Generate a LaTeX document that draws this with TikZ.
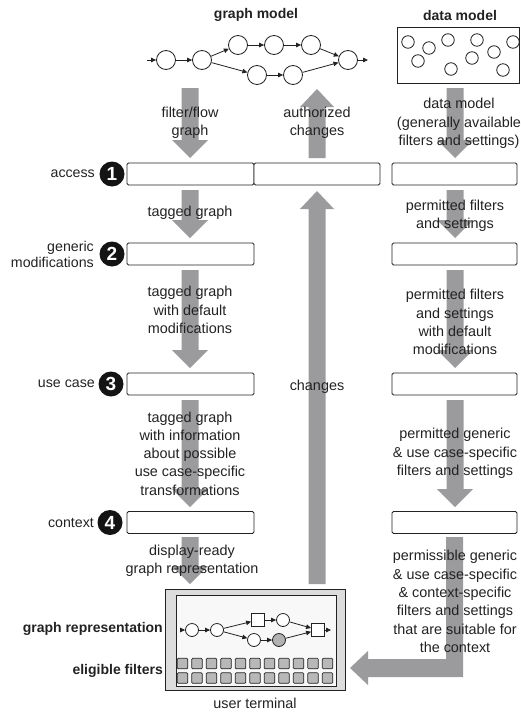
\documentclass[tikz,border=0pt]{standalone}
\usepackage{fontspec}
\setmainfont{Liberation Sans}
\usetikzlibrary{arrows.meta}
\definecolor{arrowgray}{RGB}{155,155,158}
\definecolor{ink}{RGB}{34,34,34}
\definecolor{termgray}{RGB}{220,220,220}
\definecolor{terminner}{RGB}{248,248,248}
\newcommand\blkdown[3]{%
  \fill[arrowgray] ({#1-8.5},{#2}) -- ({#1+8.5},{#2}) -- ({#1+8.5},{#3-18}) -- ({#1+18},{#3-18}) -- ({#1},{#3}) -- ({#1-18},{#3-18}) -- ({#1-8.5},{#3-18}) -- cycle;}
\newcommand\blkup[3]{%
  \fill[arrowgray] ({#1-8.5},{#2}) -- ({#1+8.5},{#2}) -- ({#1+8.5},{#3+18}) -- ({#1+17},{#3+18}) -- ({#1},{#3}) -- ({#1-17},{#3+18}) -- ({#1-8.5},{#3+18}) -- cycle;}
\begin{document}
\begin{tikzpicture}[x=1pt,y=-1pt,
  txt/.style={font=\fontsize{14.4}{18.3}\selectfont, text=ink, align=center, inner sep=0pt},
  lbl/.style={font=\fontsize{14.2}{16}\selectfont, text=ink, align=right, inner sep=0pt, anchor=east},
  ttl/.style={font=\fontsize{14}{17}\selectfont\bfseries, text=ink, inner sep=0pt},
  gnode/.style={circle, draw=ink, fill=white, line width=0.8pt, minimum size=19pt, inner sep=0pt},
  dnode/.style={circle, draw=ink, line width=0.8pt, minimum size=12.5pt, inner sep=0pt},
  tnode/.style={circle, draw=ink, fill=white, line width=0.8pt, minimum size=13pt, inner sep=0pt},
  tsq/.style={rectangle, draw=ink, fill=white, line width=0.8pt, minimum size=13pt, inner sep=0pt},
  gedge/.style={draw=ink, line width=0.8pt, -{Triangle[length=5pt,width=4.5pt]}},
  stagebox/.style={draw=ink, line width=0.8pt, rounded corners=1.5pt, fill=white, minimum height=22pt, inner sep=0pt},
  numc/.style={circle, fill=black!92, text=white, minimum size=25pt, inner sep=0pt, font=\fontsize{19}{19}\selectfont\bfseries},
  fsq/.style={rectangle, draw=ink, fill=black!28, line width=0.7pt, rounded corners=1pt, minimum size=10.5pt, inner sep=0pt},
]
\useasboundingbox (0,0) rectangle (520,712);

% titles
\node[ttl] (tgm) at (256,15) {graph model};
\node[ttl] (tdm) at (460,15) {data model};

% graph model
\node[gnode] (g1) at (166,60) {};
\node[gnode] (g2) at (202,60) {};
\node[gnode] (g3) at (238,45) {};
\node[gnode] (g4) at (274,45) {};
\node[gnode] (g5) at (311,45) {};
\node[gnode] (g6) at (348,60) {};
\node[gnode] (g7) at (257,75) {};
\node[gnode] (g8) at (293,75) {};
\coordinate (gin) at (147,60);
\coordinate (gout) at (368,60);
\draw[gedge] (gin) -- (g1);
\draw[gedge] (g1) -- (g2);
\draw[gedge] (g2) -- (g3);
\draw[gedge] (g2) -- (g7);
\draw[gedge] (g3) -- (g4);
\draw[gedge] (g4) -- (g5);
\draw[gedge] (g5) -- (g6);
\draw[gedge] (g7) -- (g8);
\draw[gedge] (g8) -- (g6);
\draw[gedge] (g6) -- (gout);

% data model
\node[draw=ink, line width=0.8pt, minimum width=122pt, minimum height=56pt, inner sep=0pt] (dm) at (458,55) {};
\foreach \n/\px/\py in {d1/408/42, d2/429/48, d3/448/40, d4/418/61, d5/451/69, d6/477/40, d7/472/58, d8/494/52, d9/513/42, d10/503/70}
  \node[dnode] (\n) at (\px,\py) {};

% block arrows: left column
\blkdown{190}{88}{158}
\blkdown{190}{190}{238}
\blkdown{190}{270}{368}
\blkdown{190}{400}{507}
\blkdown{190}{537}{584}
% right column
\blkdown{455}{88}{158}
\blkdown{455}{190}{238}
\blkdown{455}{270}{368}
\blkdown{455}{400}{507}
\fill[arrowgray] (446,537) -- (463,537) -- (463,677) -- (368,677) -- (368,685) -- (350,668) -- (368,651) -- (368,659) -- (446,659) -- cycle;
% center column
\blkup{317}{158}{89}
\blkup{317}{584}{191}

% stage boxes
\node[stagebox, minimum width=127pt] (a1) at (190.5,174) {};
\node[stagebox, minimum width=126pt] (c1) at (317,174) {};
\node[stagebox, minimum width=125pt] (r1) at (454.5,174) {};
\node[stagebox, minimum width=127pt] (a2) at (190.5,254) {};
\node[stagebox, minimum width=125pt] (r2) at (454.5,254) {};
\node[stagebox, minimum width=127pt] (a3) at (190.5,384) {};
\node[stagebox, minimum width=125pt] (r3) at (454.5,384) {};
\node[stagebox, minimum width=127pt] (a4) at (190.5,522.5) {};
\node[stagebox, minimum width=125pt] (r4) at (454.5,522.5) {};

% numbers and labels
\node[numc] (n1) at (112,174) {1};
\node[numc] (n2) at (112,254) {2};
\node[numc] (n3) at (111,384) {3};
\node[numc] (n4) at (110,522.5) {4};
\node[lbl] (l1) at (95,174) {access};
\node[lbl] (l2) at (94,254.5) {generic\\modifications};
\node[lbl] (l3) at (95,384) {use case};
\node[lbl] (l4) at (94,522.5) {context};

% texts on arrows
\node[txt] (t1) at (190,123) {filter/flow\\graph};
\node[txt] (t2) at (190,213) {tagged graph};
\node[txt] (t3) at (190,310) {tagged graph\\with default\\modifications};
\node[txt] (t4) at (190,453.5) {tagged graph\\with information\\about possible\\use case-specific\\transformations};
\node[txt] (t5) at (192,561) {display-ready\\graph representation};
\node[txt] (tc1) at (317,123) {authorized\\changes};
\node[txt] (tc2) at (317,387) {changes};
\node[txt] (r1t) at (459,123.5) {data model\\(generally available\\filters and settings)};
\node[txt] (r2t) at (455,216) {permitted filters\\and settings};
\node[txt] (r3t) at (455,322) {permitted filters\\and settings\\with default\\modifications};
\node[txt] (r4t) at (455,453.5) {permitted generic\\\& use case-specific\\filters and settings};
\node[txt] (r5t) at (455,601.5) {permissible generic\\\& use case-specific\\\& context-specific\\filters and settings\\that are suitable for\\the context};

% user terminal
\node[draw=ink, fill=termgray, line width=0.8pt, minimum width=180pt, minimum height=101pt, inner sep=0pt] (term) at (255,639.5) {};
\node[draw=ink, fill=terminner, line width=0.8pt, minimum width=160pt, minimum height=91pt, inner sep=0pt] (tin) at (256,640.5) {};
\node[tnode] (u1) at (192,630) {};
\node[tnode] (u2) at (217,630) {};
\node[tsq] (s1) at (258,620) {};
\node[tnode] (u3) at (283,620) {};
\node[tnode] (u4) at (254,640) {};
\node[tnode, fill=black!30] (u5) at (279,640) {};
\node[tsq] (s2) at (318,630) {};
\coordinate (uin) at (180,630);
\coordinate (uout) at (331,630);
\draw[gedge] (uin) -- (u1);
\draw[gedge] (u1) -- (u2);
\draw[gedge] (u2) -- (s1);
\draw[gedge] (u2) -- (u4);
\draw[gedge] (s1) -- (u3);
\draw[gedge] (u4) -- (u5);
\draw[gedge] (u3) -- (s2);
\draw[gedge] (u5) -- (s2);
\draw[gedge] (s2) -- (uout);
\foreach \i in {0,...,10} {
  \node[fsq] (fa\i) at ({182.5+14.5*\i},663.5) {};
  \node[fsq] (fb\i) at ({182.5+14.5*\i},678) {};
}
\node[ttl, anchor=east] (lgr) at (163,629) {graph representation};
\node[ttl, anchor=east] (lef) at (163,671) {eligible filters};
\node[txt] (lut) at (255,703) {user terminal};
\end{tikzpicture}
\end{document}
